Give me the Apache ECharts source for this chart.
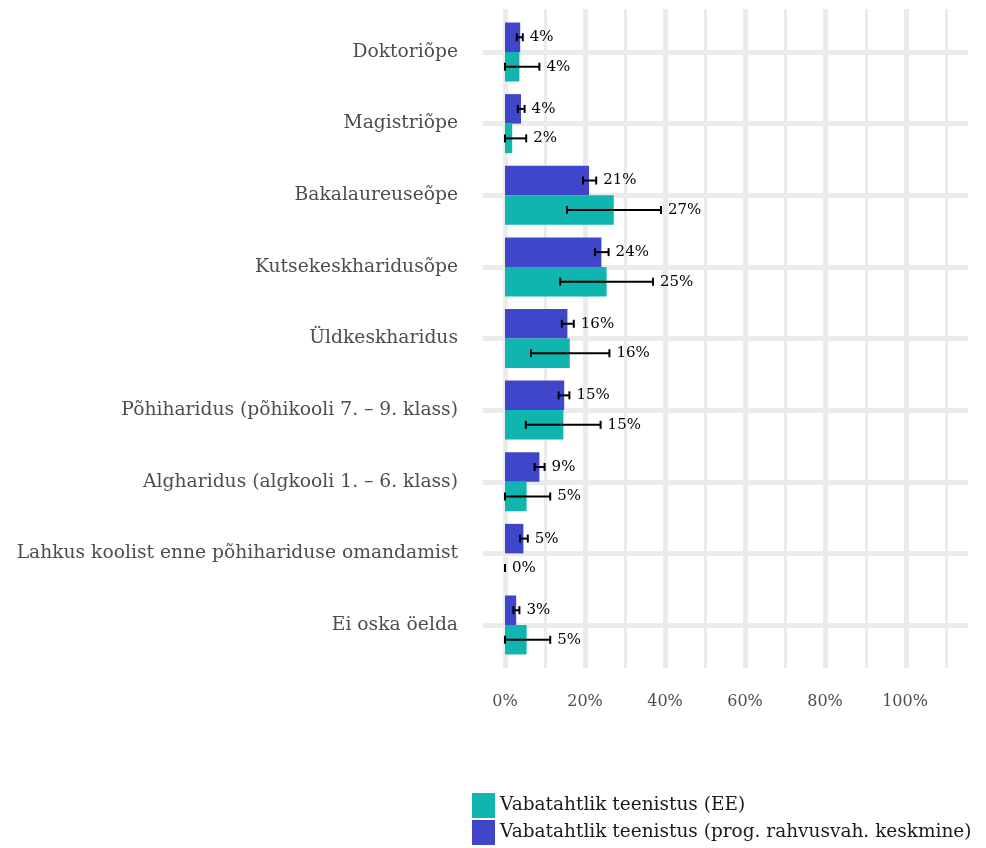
<!DOCTYPE html>
<html>
<head>
<meta charset="utf-8">
<script src="https://cdn.jsdelivr.net/npm/echarts@6/dist/echarts.min.js"></script>
<style>
  html, body { margin: 0; padding: 0; background: #fff; }
  #chart { width: 986px; height: 848px; }
</style>
</head>
<body>
<div id="chart"></div>
<script>
const categories = [
  'Doktoriõpe',
  'Magistriõpe',
  'Bakalaureuseõpe',
  'Kutsekeskharidusõpe',
  'Üldkeskharidus',
  'Põhiharidus (põhikooli 7. – 9. klass)',
  'Algharidus (algkooli 1. – 6. klass)',
  'Lahkus koolist enne põhihariduse omandamist',
  'Ei oska öelda'
];
const seriesNames = ['Vabatahtlik teenistus (EE)', 'Vabatahtlik teenistus (prog. rahvusvah. keskmine)'];

// EE
const eeValues = [3.6, 1.8, 27.2, 25.4, 16.2, 14.6, 5.4, 0, 5.4];
const eeLow    = [0, 0, 15.5, 13.8, 6.5, 5.2, 0, 0, 0];
const eeHigh   = [8.6, 5.3, 39.0, 37.0, 26.1, 23.9, 11.3, 0, 11.3];
// prog. rahvusvah. keskmine
const intlValues = [3.8, 4.0, 21.0, 24.1, 15.6, 14.8, 8.6, 4.6, 2.8];
const intlLow    = [2.95, 3.2, 19.5, 22.5, 14.2, 13.4, 7.4, 3.8, 2.1];
const intlHigh   = [4.45, 4.9, 22.8, 25.9, 17.2, 16.1, 9.9, 5.7, 3.6];

const xTicks = [0, 10, 20, 30, 40, 50, 60, 70, 80, 90, 100, 110];

const TEAL = '#0FB5AE';
const BLUE = '#4046CA';
const GRID_COL = '#ebebeb';
const FONT = 'DejaVu Serif';
const BAR_H = 29.5;

function errData(vals, lo, hi) {
  return vals.map((v, i) => [v, i, lo[i], hi[i]]);
}

// error bar + value label, shifted up or down inside the band
function errRenderer(shift) {
  return function (params, api) {
    const yi = api.value(1);
    const lo = api.coord([api.value(2), yi]);
    const hi = api.coord([api.value(3), yi]);
    const y = lo[1] + shift;
    const cap = 4;
    const st = { stroke: '#000', lineWidth: 2 };
    return {
      type: 'group',
      children: [
        { type: 'line', shape: { x1: lo[0], y1: y, x2: hi[0], y2: y }, style: st },
        { type: 'line', shape: { x1: lo[0], y1: y - cap, x2: lo[0], y2: y + cap }, style: st },
        { type: 'line', shape: { x1: hi[0], y1: y - cap, x2: hi[0], y2: y + cap }, style: st },
        {
          type: 'text',
          style: {
            x: hi[0] + 7, y: y,
            text: Math.round(api.value(0)) + '%',
            fill: '#000',
            font: '15px "' + FONT + '"',
            textVerticalAlign: 'middle'
          }
        }
      ]
    };
  };
}

const chart = echarts.init(document.getElementById('chart'));

const gridLines = [];
xTicks.forEach(v => gridLines.push({ xAxis: v, lineStyle: { width: v % 20 === 0 ? 5 : 3 } }));
categories.forEach((c, i) => gridLines.push({ yAxis: i, lineStyle: { width: 5 } }));

const legendBase = {
  orient: 'vertical',
  left: 472,
  padding: 0,
  itemWidth: 23, itemHeight: 25,
  icon: 'rect',
  textStyle: { fontSize: 18.5, color: '#1a1a1a', fontFamily: FONT },
  selectedMode: false
};

const option = {
  animation: false,
  textStyle: { fontFamily: FONT },
  grid: [
    { left: 483, right: 18, top: 9, bottom: 180 },
    { left: 505, right: 41, top: 16.2, bottom: 187.2 }
  ],
  xAxis: [
    { gridIndex: 0, type: 'value', min: -5.5, max: 115.5, show: false },
    {
      gridIndex: 1, type: 'value', min: 0, max: 110, interval: 20,
      axisLine: { show: false }, axisTick: { show: false }, splitLine: { show: false },
      axisLabel: {
        margin: 33, color: '#4d4d4d', fontSize: 16, fontFamily: FONT,
        formatter: v => v > 100 ? '' : v + '%'
      }
    }
  ],
  yAxis: [
    { gridIndex: 0, type: 'value', min: -0.6, max: 8.6, inverse: true, show: false },
    {
      gridIndex: 1, type: 'category', data: categories, inverse: true,
      axisLine: { show: false }, axisTick: { show: false }, splitLine: { show: false },
      axisLabel: { margin: 47, color: '#4d4d4d', fontSize: 18.7, fontFamily: FONT }
    }
  ],
  legend: [
    Object.assign({}, legendBase, { top: 793, data: [seriesNames[0]] }),
    Object.assign({}, legendBase, { top: 820, data: [seriesNames[1]] })
  ],
  series: [
    {
      type: 'line', xAxisIndex: 0, yAxisIndex: 0, data: [], silent: true, z: 0,
      markLine: {
        silent: true, symbol: 'none', animation: false, z: 0,
        label: { show: false },
        lineStyle: { color: GRID_COL, type: 'solid' },
        data: gridLines
      }
    },
    {
      name: seriesNames[1], type: 'bar', xAxisIndex: 1, yAxisIndex: 1,
      data: intlValues, barWidth: BAR_H, barGap: '0%', z: 2, zlevel: 1,
      itemStyle: { color: BLUE }
    },
    {
      name: seriesNames[0], type: 'bar', xAxisIndex: 1, yAxisIndex: 1,
      data: eeValues, barWidth: BAR_H, barGap: '0%', z: 2, zlevel: 1,
      itemStyle: { color: TEAL }
    },
    {
      type: 'custom', xAxisIndex: 1, yAxisIndex: 1, z: 5, zlevel: 1,
      data: errData(intlValues, intlLow, intlHigh),
      encode: { x: 0, y: 1 },
      renderItem: errRenderer(-BAR_H / 2)
    },
    {
      type: 'custom', xAxisIndex: 1, yAxisIndex: 1, z: 5, zlevel: 1,
      data: errData(eeValues, eeLow, eeHigh),
      encode: { x: 0, y: 1 },
      renderItem: errRenderer(BAR_H / 2)
    }
  ]
};

chart.setOption(option);
</script>
</body>
</html>
